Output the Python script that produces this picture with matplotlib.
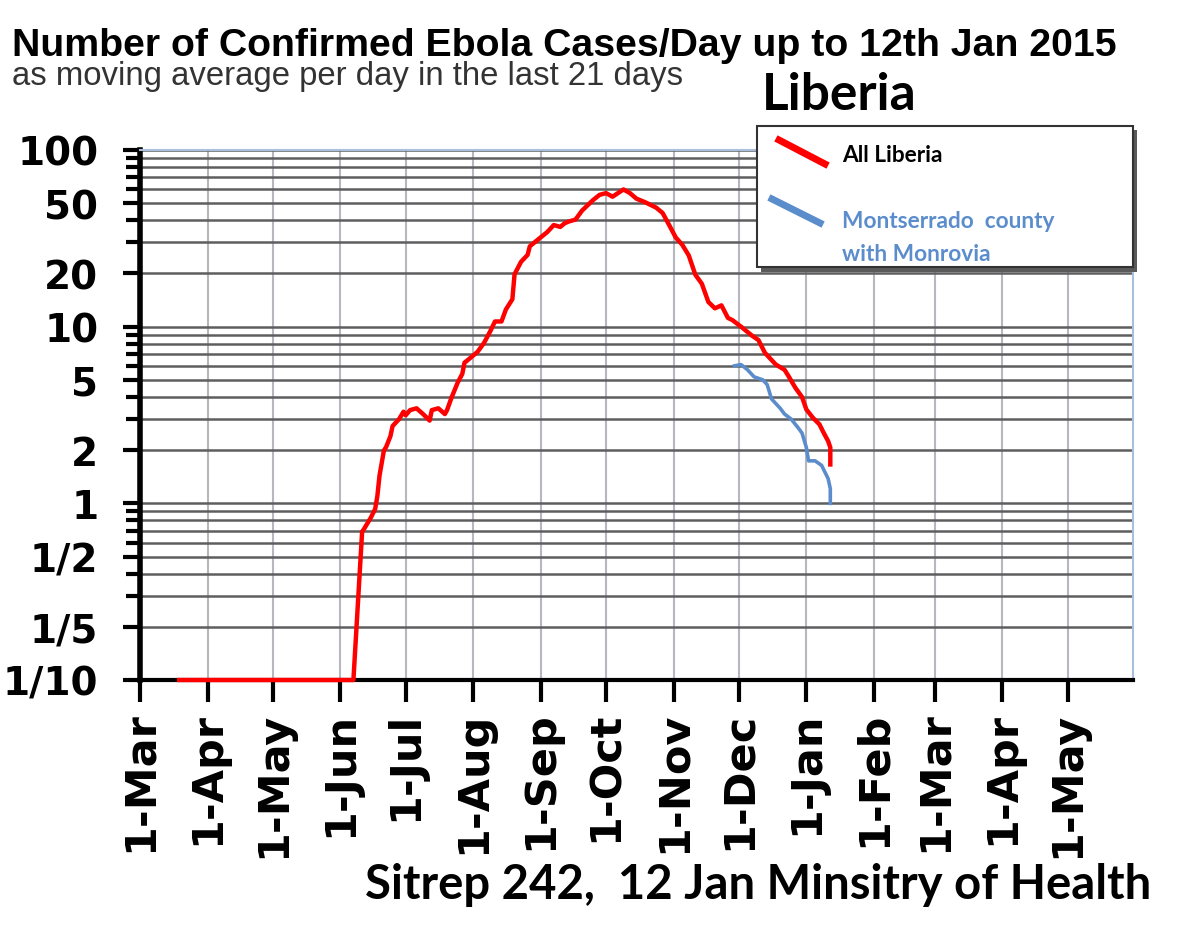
import datetime as dt

import matplotlib
matplotlib.use('Agg')
from matplotlib import pyplot as plt
import matplotlib.dates as mdates
import matplotlib.ticker as ticker
from matplotlib.lines import Line2D
from matplotlib.patches import Rectangle

# 21-day moving average of confirmed cases per day
liberia_dates = [
    '2014-03-19', '2014-06-07', '2014-06-11', '2014-06-12', '2014-06-15', '2014-06-17',
    '2014-06-18', '2014-06-19', '2014-06-21', '2014-06-22', '2014-06-24', '2014-06-25',
    '2014-06-28', '2014-06-30', '2014-07-01', '2014-07-03', '2014-07-06', '2014-07-09',
    '2014-07-12', '2014-07-13', '2014-07-16', '2014-07-19', '2014-07-20', '2014-07-22',
    '2014-07-25', '2014-07-27', '2014-07-28', '2014-07-31', '2014-08-03', '2014-08-06',
    '2014-08-09', '2014-08-11', '2014-08-14', '2014-08-16', '2014-08-19', '2014-08-20',
    '2014-08-23', '2014-08-26', '2014-08-27', '2014-08-31', '2014-09-04', '2014-09-07',
    '2014-09-10', '2014-09-12', '2014-09-14', '2014-09-17', '2014-09-20', '2014-09-25',
    '2014-09-28', '2014-10-01', '2014-10-04', '2014-10-09', '2014-10-12', '2014-10-15',
    '2014-10-19', '2014-10-24', '2014-10-27', '2014-10-30', '2014-11-02', '2014-11-05',
    '2014-11-08', '2014-11-11', '2014-11-14', '2014-11-17', '2014-11-20', '2014-11-23',
    '2014-11-26', '2014-11-28', '2014-12-02', '2014-12-07', '2014-12-10', '2014-12-13',
    '2014-12-18', '2014-12-22', '2014-12-24', '2014-12-27', '2014-12-30', '2015-01-01',
    '2015-01-04', '2015-01-07', '2015-01-09', '2015-01-11', '2015-01-12', '2015-01-12',
]
liberia_cases = [
    0.1, 0.1, 0.69, 0.72, 0.83, 0.93,
    1.1, 1.44, 1.99, 2.08, 2.4, 2.74,
    3.0, 3.3, 3.15, 3.37, 3.45, 3.2,
    2.94, 3.37, 3.45, 3.2, 3.37, 3.95,
    4.86, 5.4, 6.25, 6.7, 7.2, 8.1,
    9.5, 10.7, 10.7, 12.5, 14.3, 19.8,
    23.3, 25.5, 28.5, 31.3, 34.3, 37.6,
    36.7, 38.5, 39.4, 40.4, 45.4, 52.0,
    55.7, 57.0, 54.4, 59.8, 57.0, 53.0,
    50.6, 47.2, 44.0, 37.6, 32.0, 29.1,
    25.3, 19.7, 17.5, 13.8, 12.7, 13.2,
    11.2, 10.9, 10.0, 8.9, 8.4, 7.1,
    6.1, 5.7, 5.2, 4.5, 4.0, 3.4,
    3.05, 2.8, 2.5, 2.25, 2.07, 1.66,
]

montserrado_dates = [
    '2014-11-29', '2014-12-02', '2014-12-05', '2014-12-08', '2014-12-12', '2014-12-14',
    '2014-12-16', '2014-12-20', '2014-12-22', '2014-12-25', '2014-12-28', '2014-12-30',
    '2015-01-01', '2015-01-02', '2015-01-05', '2015-01-08', '2015-01-11', '2015-01-12',
    '2015-01-12',
]
montserrado_cases = [
    6.0, 6.1, 5.7, 5.2, 5.0, 4.7,
    3.9, 3.45, 3.2, 3.0, 2.7, 2.5,
    2.07, 1.74, 1.74, 1.64, 1.38, 1.21,
    1.0,
]

y_ticks = [0.1, 0.2, 0.5, 1, 2, 5, 10, 20, 50, 100]
y_tick_labels = ['1/10', '1/5', '1/2', '1', '2', '5', '10', '20', '50', '100']
x_start = '2014-03-01'
x_end = '2015-05-31'

W, H = 1200, 945


def fx(x):
    return x / W


def fy(y):
    return 1 - y / H


def to_dates(values):
    return [dt.datetime.fromisoformat(v) for v in values]


fig = plt.figure(figsize=(W / 100, H / 100), dpi=100)
fig.patch.set_facecolor('white')

ax = fig.add_axes([fx(140), fy(681), fx(1133) - fx(140), fy(151) - fy(681)])

ax.plot(to_dates(liberia_dates), liberia_cases, color='#ff0000', lw=3.2,
        clip_on=False, zorder=4, solid_joinstyle='round')
ax.plot(to_dates(montserrado_dates), montserrado_cases, color='#5b8dcc', lw=2.6,
        zorder=4, solid_joinstyle='round')

ax.set_yscale('log')
ax.set_ylim(0.1, 100)
ax.set_xlim(dt.datetime.fromisoformat(x_start), dt.datetime.fromisoformat(x_end))

ax.yaxis.set_major_locator(ticker.FixedLocator(y_ticks))
ax.yaxis.set_major_formatter(ticker.FixedFormatter(y_tick_labels))
ax.yaxis.set_minor_locator(ticker.LogLocator(base=10, subs=range(2, 10), numticks=50))
ax.yaxis.set_minor_formatter(ticker.NullFormatter())

ax.xaxis.set_major_locator(mdates.MonthLocator(bymonthday=1))
ax.xaxis.set_major_formatter(ticker.FuncFormatter(
    lambda v, _: f"{mdates.num2date(v).day}-{mdates.num2date(v):%b}"))

ax.grid(True, axis='y', which='both', color='#5e5e5e', lw=1.8)
ax.grid(True, axis='x', which='major', color='#b6b8c0', lw=1.5)
ax.set_axisbelow(True)

ax.tick_params(axis='y', which='major', direction='out', length=12, width=3,
               pad=18, labelsize=28, color='black')
ax.tick_params(axis='y', which='minor', direction='out', length=10, width=3, color='black')
ax.tick_params(axis='x', which='major', direction='out', length=16, width=3,
               pad=6, labelsize=31, labelrotation=90, color='black')

for lab in ax.get_xticklabels() + ax.get_yticklabels():
    lab.set_fontweight('bold')
    lab.set_family('DejaVu Sans')

ax.spines['left'].set_linewidth(4)
ax.spines['left'].set_color('black')
ax.spines['bottom'].set_linewidth(3)
ax.spines['bottom'].set_color('black')
for side in ['top', 'right']:
    ax.spines[side].set_linewidth(1.5)
    ax.spines[side].set_color('#a9bfdc')

# titles
fig.text(fx(12), fy(56), 'Number of Confirmed Ebola Cases/Day up to 12th Jan 2015',
         family='Liberation Sans', weight='bold', fontsize=28.3, va='baseline')
fig.text(fx(12), fy(85), 'as moving average per day in the last 21 days',
         family='Liberation Sans', fontsize=23.7, color='#333333', va='baseline')
fig.text(fx(762), fy(110), 'Liberia', family='Lato', weight='bold', fontsize=37,
         va='baseline')
fig.text(fx(365), fy(899), 'Sitrep 242,  12 Jan Minsitry of Health', family='Lato',
         weight='bold', fontsize=34, va='baseline')

# legend box drawn by hand, with shadow
fig.add_artist(Rectangle((fx(761), fy(273)), fx(1137) - fx(761), fy(131) - fy(273),
                         transform=fig.transFigure, facecolor='#5a5a5a', edgecolor='none',
                         zorder=5))
fig.add_artist(Rectangle((fx(757), fy(268)), fx(1133) - fx(757), fy(127) - fy(268),
                         transform=fig.transFigure, facecolor='white', edgecolor='#333333',
                         lw=1.5, zorder=6))
fig.add_artist(Line2D([fx(779), fx(825)], [fy(141), fy(165)], transform=fig.transFigure,
                      color='#ff0000', lw=5, zorder=7))
fig.add_artist(Line2D([fx(772), fx(820)], [fy(200), fy(224)], transform=fig.transFigure,
                      color='#5b8dcc', lw=5, zorder=7))
fig.text(fx(842), fy(162), 'All Liberia', family='Lato', weight='bold', fontsize=16.3,
         color='black', va='baseline', zorder=8)
fig.text(fx(842), fy(228), 'Montserrado  county', family='Lato', weight='bold',
         fontsize=16.3, color='#5b8dcc', va='baseline', zorder=8)
fig.text(fx(842), fy(261), 'with Monrovia', family='Lato', weight='bold', fontsize=16.3,
         color='#5b8dcc', va='baseline', zorder=8)

fig.savefig('out.png', dpi=100)
